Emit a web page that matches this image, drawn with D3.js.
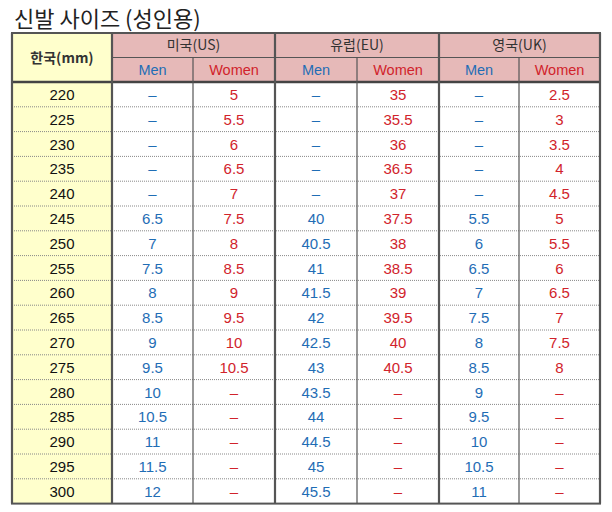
<!DOCTYPE html>
<html><head><meta charset="utf-8">
<script src="https://cdn.jsdelivr.net/npm/d3@7"></script>
<style>body{margin:0;background:#fff}</style>
</head><body>
<script>
var korea = [220,225,230,235,240,245,250,255,260,265,270,275,280,285,290,295,300];
var usMen = ["–","–","–","–","–","6.5","7","7.5","8","8.5","9","9.5","10","10.5","11","11.5","12"];
var usWomen = ["5","5.5","6","6.5","7","7.5","8","8.5","9","9.5","10","10.5","–","–","–","–","–"];
var euMen = ["–","–","–","–","–","40","40.5","41","41.5","42","42.5","43","43.5","44","44.5","45","45.5"];
var euWomen = ["35","35.5","36","36.5","37","37.5","38","38.5","39","39.5","40","40.5","–","–","–","–","–"];
var ukMen = ["–","–","–","–","–","5.5","6","6.5","7","7.5","8","8.5","9","9.5","10","10.5","11"];
var ukWomen = ["2.5","3","3.5","4","4.5","5","5.5","6","6.5","7","7.5","8","–","–","–","–","–"];
var groups = ["미국(US)","유럽(EU)","영국(UK)"];
var title = "신발 사이즈 (성인용)";

var cols = [usMen, usWomen, euMen, euWomen, ukMen, ukWomen];
var edges = [12,112,193,275,357,439,519,600];
var top0 = 33, hdrH = 24.5, rowH = 24.8;
var blue = "#1f6db5", red = "#d1232b", font = "Liberation Sans, Arial, sans-serif";

var svg = d3.select("body").append("svg").attr("width",612).attr("height",512);
svg.append("text").attr("x",14).attr("y",27).attr("font-size",22).attr("fill","#222")
  .attr("font-family","Noto Sans CJK KR").text(title);

var y = d3.scaleLinear().domain([0, korea.length]).range([top0+2*hdrH, top0+2*hdrH+korea.length*rowH]);
var bottom = y(korea.length);

svg.append("rect").attr("x",edges[0]).attr("y",top0).attr("width",edges[1]-edges[0]).attr("height",bottom-top0).attr("fill","#ffffcc");
svg.append("rect").attr("x",edges[1]).attr("y",top0).attr("width",edges[7]-edges[1]).attr("height",2*hdrH).attr("fill","#e6b9b8");

svg.selectAll(".rl").data(d3.range(1,korea.length)).enter().append("line")
  .attr("x1",edges[0]).attr("x2",edges[7]).attr("y1",d=>y(d)).attr("y2",d=>y(d))
  .attr("stroke","#888").attr("stroke-dasharray","1,1").attr("stroke-width",1);

svg.append("line").attr("x1",edges[1]).attr("x2",edges[7]).attr("y1",top0+hdrH).attr("y2",top0+hdrH).attr("stroke","#555");
svg.append("line").attr("x1",edges[0]).attr("x2",edges[7]).attr("y1",y(0)).attr("y2",y(0)).attr("stroke","#444").attr("stroke-width",2.5);

edges.forEach(function(e,i){
  var thick = (i%2==1) || i==0 || i==7;
  var y1 = (i%2==0 && i>0 && i<7) ? top0+hdrH : top0;
  svg.append("line").attr("x1",e).attr("x2",e).attr("y1",y1).attr("y2",bottom)
    .attr("stroke","#555").attr("stroke-width", thick ? 2.2 : 1.2);
});
svg.append("rect").attr("x",edges[0]).attr("y",top0).attr("width",edges[7]-edges[0]).attr("height",bottom-top0)
  .attr("fill","none").attr("stroke","#555").attr("stroke-width",2);

svg.append("text").attr("x",(edges[0]+edges[1])/2).attr("y",top0+hdrH+5).attr("text-anchor","middle")
  .attr("font-size",14).attr("font-weight","bold").attr("fill","#333").attr("font-family","Noto Sans CJK KR").text("한국(mm)");
groups.forEach(function(g,i){
  svg.append("text").attr("x",(edges[1+2*i]+edges[3+2*i])/2).attr("y",top0+hdrH/2+5).attr("text-anchor","middle")
    .attr("font-size",14).attr("fill","#333").attr("font-family","Noto Sans CJK KR").text(g);
});
cols.forEach(function(c,i){
  svg.append("text").attr("x",(edges[1+i]+edges[2+i])/2).attr("y",top0+hdrH*1.5+5).attr("text-anchor","middle")
    .attr("font-size",14.5).attr("fill", i%2 ? red : blue).attr("font-family",font).text(i%2 ? "Women" : "Men");
});

svg.selectAll(".k").data(korea).enter().append("text")
  .attr("x",(edges[0]+edges[1])/2).attr("y",(d,i)=>y(i+0.5)+5.5).attr("text-anchor","middle")
  .attr("font-size",15).attr("fill","#111").attr("font-family",font).text(d=>d);
cols.forEach(function(c,ci){
  svg.selectAll(".c"+ci).data(c).enter().append("text")
    .attr("x",(edges[1+ci]+edges[2+ci])/2).attr("y",(d,i)=>y(i+0.5)+5.5).attr("text-anchor","middle")
    .attr("font-size",15).attr("fill", ci%2 ? red : blue).attr("font-family",font)
    .text(d=>d);
});
</script>
</body></html>
